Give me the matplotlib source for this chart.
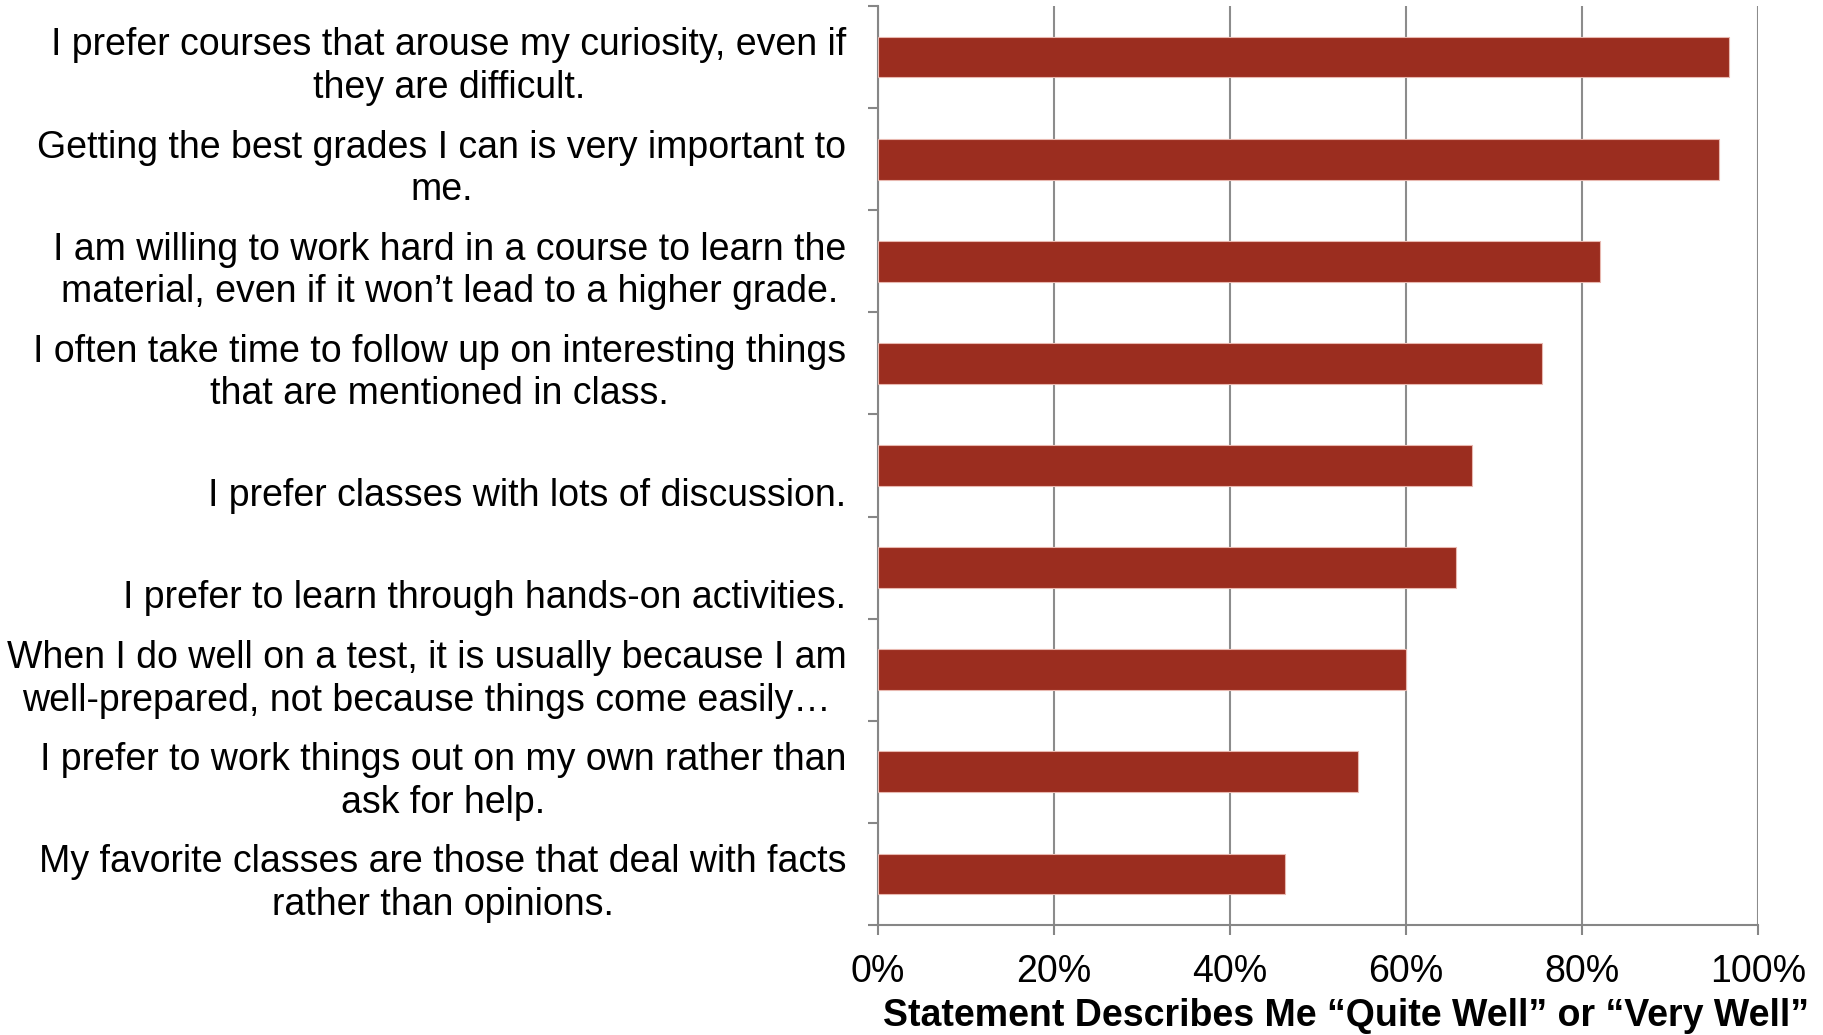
import matplotlib
matplotlib.use("Agg")
import matplotlib.pyplot as plt
import matplotlib.transforms as mtransforms
from matplotlib import font_manager
from matplotlib.ticker import PercentFormatter

# survey statements, top to bottom
statements = [
    "I prefer courses that arouse my curiosity, even if\nthey are difficult.",
    "Getting the best grades I can is very important to\nme.",
    "I am willing to work hard in a course to learn the\nmaterial, even if it won\u2019t lead to a higher grade.",
    "I often take time to follow up on interesting things\nthat are mentioned in class.",
    "I prefer classes with lots of discussion.",
    "I prefer to learn through hands-on activities.",
    "When I do well on a test, it is usually because I am\nwell-prepared, not because things come easily\u2026",
    "I prefer to work things out on my own rather than\nask for help.",
    "My favorite classes are those that deal with facts\nrather than opinions.",
]
# share answering "quite well" or "very well"
share = [0.967, 0.956, 0.821, 0.754, 0.675, 0.657, 0.600, 0.546, 0.463]
xticks = [0, 0.2, 0.4, 0.6, 0.8, 1.0]

names = {f.name for f in font_manager.fontManager.ttflist}
font = "Liberation Sans Narrow" if "Liberation Sans Narrow" in names else "Liberation Sans"
plt.rcParams["font.family"] = [font, "DejaVu Sans"]

fig = plt.figure(figsize=(18.24, 10.35), dpi=100)
ax = fig.add_axes([878 / 1824, 1 - 925 / 1035, 880 / 1824, 919 / 1035])

n = len(statements)
ypos = list(range(n))
ax.barh(ypos, share, height=0.4, color="#9b2d1f", edgecolor="#e8b8b0", linewidth=0.8, zorder=3)

ax.set_xlim(0, 1)
ax.set_ylim(n - 0.5, -0.5)
ax.set_xticks(xticks)
ax.xaxis.set_major_formatter(PercentFormatter(1.0, decimals=0))
ax.tick_params(axis="x", labelsize=27, length=7, color="#868686", width=1.5, pad=14)
ax.grid(axis="x", color="#8c8c8c", linewidth=1.5, zorder=0)

# category boundary ticks on the y axis
ax.set_yticks([i - 0.5 for i in range(n + 1)])
ax.set_yticklabels([])
ax.tick_params(axis="y", length=7, color="#868686", width=1.5)

for side in ("top", "right"):
    ax.spines[side].set_visible(False)
for side in ("left", "bottom"):
    ax.spines[side].set_color("#868686")
    ax.spines[side].set_linewidth(1.5)

trans = mtransforms.blended_transform_factory(ax.transAxes, ax.transData)
for y, label in zip(ypos, statements):
    shift = -7 if "\n" in label else -22
    t = trans + mtransforms.ScaledTranslation(0, shift / 72, fig.dpi_scale_trans)
    ax.text(-0.036, y, label, transform=t, ha="right", va="center",
            multialignment="center", fontsize=27, linespacing=1.24)

fig.text(1346 / 1824, 1 - 1016 / 1035, "Statement Describes Me \u201cQuite Well\u201d or \u201cVery Well\u201d",
         ha="center", va="center", fontsize=27, fontweight="bold")

fig.savefig("out.png", dpi=100)
